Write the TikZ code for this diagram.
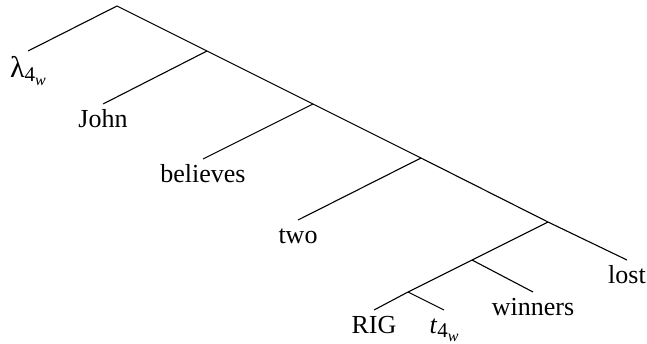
\documentclass[tikz,border=0pt]{standalone}
\usepackage{fontspec}
\setmainfont{Liberation Serif}
\newcommand{\worldsub}[1]{#1\raisebox{-2pt}{\fontsize{10.5}{11}\selectfont 4\raisebox{-2pt}{\fontsize{8}{9}\selectfont\itshape w}}}

\begin{document}
\begin{tikzpicture}[
  x=0.5pt, y=-0.5pt,
  font=\fontsize{13}{15}\selectfont,
  leaf/.style={anchor=north, inner sep=2.5pt, text height=9pt, text depth=3pt},
  branch/.style={line width=0.55pt}
]
\useasboundingbox (0,0) rectangle (647,343);

% inner points of the tree
\coordinate (root) at (117,6);
\coordinate (n1) at (207,51);
\coordinate (n2) at (313,104);
\coordinate (n3) at (421,158);
\coordinate (n4) at (548,222);
\coordinate (n5) at (472,260);
\coordinate (n6) at (408,292);

% leaves
\node[leaf, inner ysep=4pt] (lam) at (28,51) {\worldsub{{\fontsize{15}{15}\selectfont λ}}};
\node[leaf] (john) at (103,104) {John};
\node[leaf] (believes) at (203,159) {believes};
\node[leaf] (two) at (298,220) {two};
\node[leaf] (lost) at (627,260) {lost};
\node[leaf] (winners) at (533,292) {winners};
\node[leaf] (rig) at (374,310) {RIG};
\node[leaf] (trace) at (444,310) {\worldsub{\textit{t}}};

\draw[branch] (lam.north) -- (root) -- (n1) -- (n2) -- (n3) -- (n4) -- (lost.north);
\draw[branch] (n1) -- (john.north);
\draw[branch] (n2) -- (believes.north);
\draw[branch] (n3) -- (two.north);
\draw[branch] (n4) -- (n5) -- (n6) -- (rig.north);
\draw[branch] (n5) -- (winners.north);
\draw[branch] (n6) -- (trace.north);

\end{tikzpicture}
\end{document}
